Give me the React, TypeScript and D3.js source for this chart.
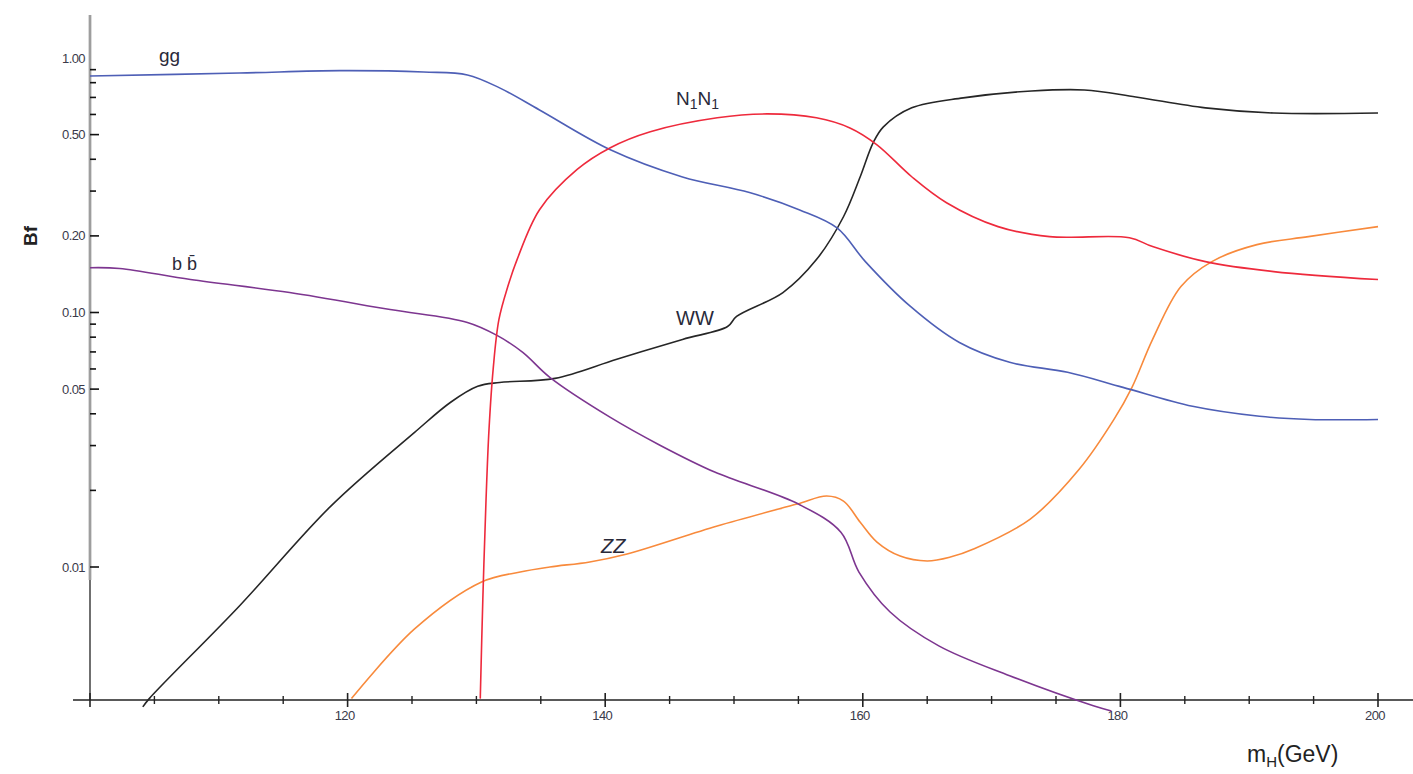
import React, { useEffect, useRef } from 'react'
import * as d3 from 'd3'

// Higgs branching fractions vs m_H (GeV)
const ggData: [number, number][] = [
  [100, 0.85], [111.6, 0.873], [119.4, 0.892], [125.9, 0.881], [129.3, 0.858],
  [131.8, 0.763], [134.9, 0.625], [140.4, 0.436], [146, 0.341],
  [151.2, 0.296], [155.1, 0.253], [158, 0.215], [160.2, 0.1585],
  [163.7, 0.1056], [167.5, 0.0762], [171.4, 0.0637], [175.9, 0.0582], [180.2, 0.0508],
  [185.6, 0.0428], [190.8, 0.0391], [194.7, 0.038], [200, 0.038],
]

const bbData: [number, number][] = [
  [100, 0.15], [102.3, 0.149], [107.8, 0.1347], [115.5, 0.1198], [123.3, 0.1027],
  [129.3, 0.0914], [131.6, 0.0813], [133.6, 0.0697], [135.7, 0.0556], [140.4, 0.0387],
  [144.25, 0.0301], [148.5, 0.0236], [155, 0.01767], [158.3, 0.0137], [159.7, 0.00955],
  [162.1, 0.00667], [165.9, 0.0049], [171.4, 0.00374], [177.9, 0.00285], [179.3, 0.00272],
]

const wwData: [number, number][] = [
  [104.1, 0.00282], [104.6, 0.00304], [111.6, 0.00703], [118.7, 0.01735], [125.2, 0.0338],
  [128, 0.0444], [130.1, 0.0513], [131.8, 0.0531], [136.1, 0.0551], [140.9, 0.0655],
  [146, 0.0784], [149.5, 0.0881], [150.2, 0.0965], [153.8, 0.1198], [156.4, 0.1614],
  [158.5, 0.2378], [159.8, 0.3415], [160.8, 0.4642], [161.6, 0.536], [163.8, 0.637],
  [167.8, 0.697], [173.1, 0.742], [177.2, 0.749], [181.2, 0.703], [186.6, 0.637],
  [191.9, 0.608], [200, 0.608],
]

const n1n1Data: [number, number][] = [
  [130.3, 0.00304], [130.5, 0.00749], [130.75, 0.0185], [130.98, 0.0348], [131.3, 0.0598],
  [131.75, 0.0939], [132.45, 0.127], [133.15, 0.161], [134.9, 0.2535],
  [137.8, 0.364], [140.4, 0.444], [143.5, 0.513], [148.7, 0.582], [152.6, 0.603],
  [156.4, 0.582], [159, 0.531], [161.1, 0.456], [163.8, 0.3415], [166.5, 0.27],
  [170.5, 0.2175], [174.5, 0.1986], [180.7, 0.1968], [182.5, 0.1815], [186.6, 0.1585],
  [191.9, 0.1448], [200, 0.1347],
]

const zzData: [number, number][] = [
  [120.3, 0.00304], [125.2, 0.00571], [130.4, 0.00873], [133.4, 0.00956], [135.7, 0.01],
  [138.8, 0.01047], [141.7, 0.01125], [148.7, 0.01449], [154.9, 0.01767], [157.2, 0.019],
  [158.5, 0.01815], [159.8, 0.015], [161.1, 0.01253], [162.9, 0.01104], [165, 0.01056],
  [166.8, 0.01094], [168.6, 0.01177], [173, 0.01543], [176.8, 0.0242], [179.5, 0.038],
  [180.9, 0.0508], [182.5, 0.0784], [184.7, 0.1265], [187.1, 0.1585],
  [190.6, 0.1848], [194.6, 0.1986], [200, 0.2175],
]

const yMajorTicks = [0.5, 0.2, 0.1, 0.05, 0.01]
const yLabelTicks = [1, 0.5, 0.2, 0.1, 0.05, 0.01]
const yLabels = ['1.00', '0.50', '0.20', '0.10', '0.05', '0.01']
const yMinorTicks = [0.9, 0.8, 0.7, 0.6, 0.4, 0.3, 0.09, 0.08, 0.07, 0.06, 0.04, 0.03, 0.02]
const xMajorTicks = [100, 120, 140, 160, 180, 200]
const xLabelTicks = [120, 140, 160, 180, 200]
const xMinorTicks = [105, 110, 115, 125, 130, 135, 145, 150, 155, 165, 170, 175, 185, 190, 195]

const W = 1413
const H = 774
const FONT = '"Liberation Sans", Arial, sans-serif'

const App = () => {
  const ref = useRef<SVGSVGElement>(null)

  useEffect(() => {
    const svg = d3.select(ref.current)
    svg.selectAll('*').remove()

    const x = d3.scaleLinear().domain([100, 200]).range([90, 1378])
    const y = d3.scaleLog().domain([0.01, 1]).range([567, 58])
    const x0 = x(100)
    const yBase = 700

    // y axis line: grey thick part on top, thin black below 0.01
    svg.append('line')
      .attr('x1', x0).attr('x2', x0).attr('y1', 15).attr('y2', 580)
      .attr('stroke', '#b8b8b8').attr('stroke-width', 3)
    svg.append('line')
      .attr('x1', x0).attr('x2', x0).attr('y1', 15).attr('y2', 580)
      .attr('stroke', '#777').attr('stroke-width', 0.8)
    svg.append('line')
      .attr('x1', x0).attr('x2', x0).attr('y1', 580).attr('y2', yBase)
      .attr('stroke', '#222').attr('stroke-width', 1.3)

    // y ticks
    svg.append('g').selectAll('line').data(yMajorTicks).enter().append('line')
      .attr('x1', x0).attr('x2', x0 + 9)
      .attr('y1', d => y(d)).attr('y2', d => y(d))
      .attr('stroke', '#111').attr('stroke-width', 1.6)
    svg.append('g').selectAll('line').data(yMinorTicks).enter().append('line')
      .attr('x1', x0).attr('x2', x0 + 6)
      .attr('y1', d => y(d)).attr('y2', d => y(d))
      .attr('stroke', '#111').attr('stroke-width', 1.6)

    svg.append('g').selectAll('text').data(yLabelTicks).enter().append('text')
      .text((d, i) => yLabels[i])
      .attr('x', x0 - 5)
      .attr('y', d => y(d))
      .attr('dy', '0.35em')
      .attr('text-anchor', 'end')
      .attr('font-family', FONT)
      .attr('font-size', 13)
      .attr('letter-spacing', -0.6)
      .attr('fill', '#3a3a4a')

    // x axis
    svg.append('line')
      .attr('x1', 73).attr('x2', W).attr('y1', yBase).attr('y2', yBase)
      .attr('stroke', '#222').attr('stroke-width', 1.6)
    svg.append('g').selectAll('line').data(xMajorTicks).enter().append('line')
      .attr('x1', d => x(d)).attr('x2', d => x(d))
      .attr('y1', yBase - 7).attr('y2', yBase + 7)
      .attr('stroke', '#222').attr('stroke-width', 1.6)
    svg.append('g').selectAll('line').data(xMinorTicks).enter().append('line')
      .attr('x1', d => x(d)).attr('x2', d => x(d))
      .attr('y1', yBase - 4).attr('y2', yBase + 4)
      .attr('stroke', '#222').attr('stroke-width', 1.4)
    svg.append('g').selectAll('text').data(xLabelTicks).enter().append('text')
      .text(d => d)
      .attr('x', d => x(d) - 3)
      .attr('y', yBase + 20)
      .attr('text-anchor', 'middle')
      .attr('font-family', FONT)
      .attr('font-size', 13)
      .attr('letter-spacing', -0.6)
      .attr('fill', '#3a3a4a')

    // curves
    const line = d3.line<[number, number]>()
      .x(d => x(d[0]))
      .y(d => y(d[1]))
      .curve(d3.curveCatmullRom.alpha(0.5))

    const series: [[number, number][], string][] = [
      [wwData, '#262626'],
      [zzData, '#f88a3c'],
      [bbData, '#7d3690'],
      [ggData, '#4e5fb6'],
      [n1n1Data, '#ee2a3c'],
    ]
    series.forEach(([data, color]) => {
      svg.append('path')
        .datum(data)
        .attr('d', line)
        .attr('fill', 'none')
        .attr('stroke', color)
        .attr('stroke-width', 1.6)
    })

    // curve labels
    const label = (tx: number, ty: number, size: number) =>
      svg.append('text')
        .attr('x', tx).attr('y', ty)
        .attr('font-family', FONT)
        .attr('font-size', size)
        .attr('fill', '#2a2a3a')

    label(159, 62, 19).text('gg')
    label(172, 270, 18).text('b b\u0304')
    label(676, 325, 20).text('WW')
    label(601, 553, 20).attr('font-style', 'italic').text('ZZ')

    const n = label(676, 105, 19)
    n.append('tspan').text('N')
    n.append('tspan').attr('font-size', 14).attr('dy', 4).text('1')
    n.append('tspan').attr('dy', -4).text('N')
    n.append('tspan').attr('font-size', 14).attr('dy', 4).text('1')

    // axis titles
    svg.append('text')
      .attr('transform', 'translate(37,236) rotate(-90)')
      .attr('text-anchor', 'middle')
      .attr('font-family', FONT)
      .attr('font-size', 19)
      .attr('font-weight', 'bold')
      .attr('fill', '#222')
      .text('Bf')

    const mh = svg.append('text')
      .attr('x', 1247).attr('y', 762)
      .attr('font-family', FONT)
      .attr('font-size', 23)
      .attr('fill', '#222')
    mh.append('tspan').text('m')
    mh.append('tspan').attr('font-size', 15).attr('dy', 5).text('H')
    mh.append('tspan').attr('dy', -5).text('(GeV)')
  }, [])

  return (
    <svg
      ref={ref}
      width={W}
      height={H}
      style={{ position: 'absolute', left: 0, top: 0, background: '#fff' }}
    />
  )
}

export default App
